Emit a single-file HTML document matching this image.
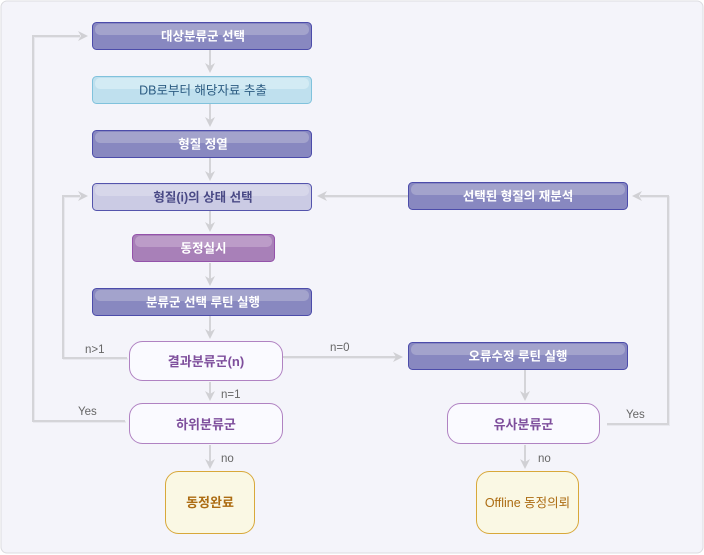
<!DOCTYPE html>
<html><head><meta charset="utf-8"><style>
html,body{margin:0;padding:0;background:#fff;}
svg{display:block;}
text{font-family:"Liberation Sans","Noto Sans CJK KR",sans-serif;}
.w{fill:#fff;font-weight:bold;font-size:12.5px;text-anchor:middle;}
.lbl{fill:#666;font-size:11.5px;}
</style></head><body>
<svg width="704" height="555" viewBox="0 0 704 555" xmlns="http://www.w3.org/2000/svg">
<defs>
<linearGradient id="gp" x1="0" y1="0" x2="0" y2="1"><stop offset="0" stop-color="#a6a6ce"/><stop offset="1" stop-color="#9d9dc9"/></linearGradient>
</defs>
<rect x="1" y="1" width="702" height="552" rx="6" fill="#f4f4fa" stroke="#dcdce0"/>

<!-- connector shadows -->
<g fill="none" stroke="#e8e8ee" stroke-width="2">
<polyline points="126,422 34,422 34,37 80,37"/>
<polyline points="128,359 64,359 64,197 80,197"/>
<line x1="284" y1="358" x2="396" y2="358"/>
<polyline points="607,425 669,425 669,197 640,197"/>
<line x1="324" y1="197" x2="408" y2="197"/>
</g>
<g fill="none" stroke="#d4d4d8" stroke-width="2">
<polyline points="125,421 33,421 33,36 80,36"/>
<polyline points="127,358 63,358 63,196 80,196"/>
<line x1="283" y1="357" x2="396" y2="357"/>
<polyline points="607,424 668,424 668,196 640,196"/>
<line x1="324" y1="196" x2="408" y2="196"/>
<line x1="210" y1="50" x2="210" y2="66"/>
<line x1="210" y1="104" x2="210" y2="120"/>
<line x1="210" y1="158" x2="210" y2="174"/>
<line x1="210" y1="211" x2="210" y2="225"/>
<line x1="210" y1="263" x2="210" y2="279"/>
<line x1="210" y1="316" x2="210" y2="332"/>
<line x1="210" y1="382" x2="210" y2="394"/>
<line x1="210" y1="445" x2="210" y2="462"/>
<line x1="525" y1="370" x2="525" y2="394"/>
<line x1="525" y1="445" x2="525" y2="462"/>
</g>
<!-- arrowheads -->
<g fill="#d0d0d4">
<path d="M88,36 L78,31 L81,36 L78,41 Z"/>
<path d="M88,196 L78,191 L81,196 L78,201 Z"/>
<path d="M403,357 L393,352 L396,357 L393,362 Z"/>
<path d="M632,196 L642,191 L639,196 L642,201 Z"/>
<path d="M317,196 L327,191 L324,196 L327,201 Z"/>
<path d="M210,73 L205,63 L210,66 L215,63 Z"/>
<path d="M210,127 L205,117 L210,120 L215,117 Z"/>
<path d="M210,181 L205,171 L210,174 L215,171 Z"/>
<path d="M210,232 L205,222 L210,225 L215,222 Z"/>
<path d="M210,286 L205,276 L210,279 L215,276 Z"/>
<path d="M210,339 L205,329 L210,332 L215,329 Z"/>
<path d="M210,401 L205,391 L210,394 L215,391 Z"/>
<path d="M210,469 L205,459 L210,462 L215,459 Z"/>
<path d="M525,401 L520,391 L525,394 L530,391 Z"/>
<path d="M525,469 L520,459 L525,462 L530,459 Z"/>
</g>

<!-- labels -->
<text class="lbl" x="85" y="353">n&gt;1</text>
<text class="lbl" x="78" y="415">Yes</text>
<text class="lbl" x="330" y="351">n=0</text>
<text class="lbl" x="221" y="398">n=1</text>
<text class="lbl" x="221" y="462">no</text>
<text class="lbl" x="538" y="462">no</text>
<text class="lbl" x="626" y="418">Yes</text>

<!-- dark purple boxes -->
<g>
<rect x="92.5" y="22.5" width="219" height="27" rx="4" fill="#8888c0" stroke="#4c4caa"/>
<rect x="95" y="24" width="214" height="11" rx="5" fill="#a3a3cc"/>
<text class="w" x="203" y="40.5">대상분류군 선택</text>

<rect x="92.5" y="130.5" width="219" height="27" rx="4" fill="#8888c0" stroke="#4c4caa"/>
<rect x="95" y="132" width="214" height="11" rx="5" fill="#a3a3cc"/>
<text class="w" x="203" y="148.5">형질 정열</text>

<rect x="92.5" y="288.5" width="219" height="27" rx="4" fill="#8888c0" stroke="#4c4caa"/>
<rect x="95" y="290" width="214" height="11" rx="5" fill="#a3a3cc"/>
<text class="w" x="203" y="306.5">분류군 선택 루틴 실행</text>

<rect x="408.5" y="182.5" width="219" height="27" rx="4" fill="#8888c0" stroke="#4c4caa"/>
<rect x="411" y="184" width="214" height="11" rx="5" fill="#a3a3cc"/>
<text class="w" x="518" y="200.5">선택된 형질의 재분석</text>

<rect x="408.5" y="342.5" width="219" height="27" rx="4" fill="#8888c0" stroke="#4c4caa"/>
<rect x="411" y="344" width="214" height="11" rx="5" fill="#a3a3cc"/>
<text class="w" x="518" y="360.5">오류수정 루틴 실행</text>
</g>

<!-- light blue -->
<rect x="92.5" y="76.5" width="219" height="27" rx="4" fill="#bfe0ee" stroke="#80c2dc"/>
<rect x="95" y="78" width="214" height="11" rx="5" fill="#d3ebf4"/>
<text x="203" y="94.5" text-anchor="middle" font-size="12.5" fill="#2c5c82">DB로부터 해당자료 추출</text>

<!-- lavender -->
<rect x="92.5" y="183.5" width="219" height="27" rx="4" fill="#cbcbe4" stroke="#5454ac"/>
<rect x="95" y="185" width="214" height="11" rx="5" fill="#d7d7ea"/>
<text x="203" y="201.5" text-anchor="middle" font-size="12.5" font-weight="bold" fill="#4a4a86">형질(i)의 상태 선택</text>

<!-- purple 동정실시 -->
<rect x="132.5" y="234.5" width="142" height="27" rx="4" fill="#a880b8" stroke="#9452aa"/>
<rect x="135" y="236" width="137" height="11" rx="5" fill="#bc9cc8"/>
<text class="w" x="203.5" y="252.5">동정실시</text>

<!-- decisions -->
<rect x="129.5" y="341.5" width="153" height="39" rx="13" fill="#fafaff" stroke="#b082c2"/>
<text x="206" y="366" text-anchor="middle" font-size="13" font-weight="bold" fill="#7e4e9c">결과분류군(n)</text>
<rect x="129.5" y="403.5" width="153" height="40" rx="13" fill="#fafaff" stroke="#b082c2"/>
<text x="206" y="429" text-anchor="middle" font-size="13" font-weight="bold" fill="#7e4e9c">하위분류군</text>
<rect x="447.5" y="403.5" width="152" height="40" rx="13" fill="#fafaff" stroke="#b082c2"/>
<text x="523.5" y="429" text-anchor="middle" font-size="13" font-weight="bold" fill="#7e4e9c">유사분류군</text>

<!-- terminals -->
<rect x="165.5" y="471.5" width="89" height="62" rx="13" fill="#faf8e4" stroke="#d8a83a"/>
<text x="210" y="507" text-anchor="middle" font-size="13" font-weight="bold" fill="#ac6c12">동정완료</text>
<rect x="476.5" y="471.5" width="102" height="62" rx="13" fill="#faf8e4" stroke="#d8a83a"/>
<text x="527.5" y="507" text-anchor="middle" font-size="12.5" fill="#ac6c12">Offline 동정의뢰</text>
</svg>
</body></html>
